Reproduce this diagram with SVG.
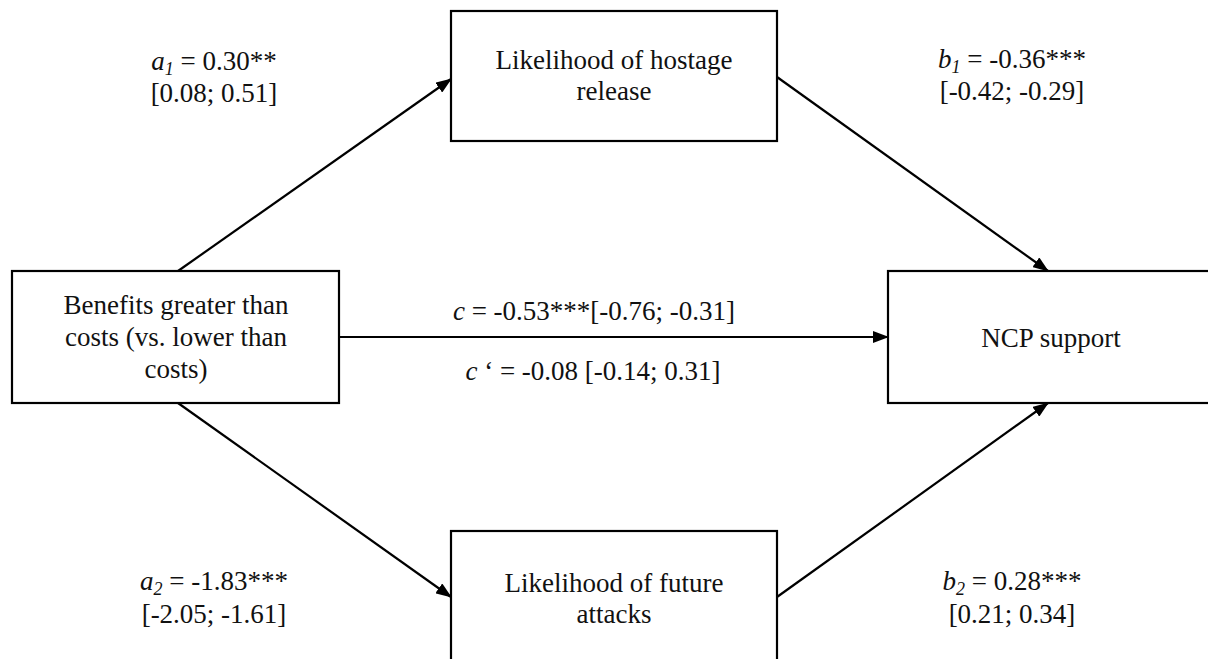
<svg xmlns="http://www.w3.org/2000/svg" width="1208" height="659" viewBox="0 0 1208 659">
<style>
.box{fill:#fff;stroke:#000;stroke-width:2.2}
.t{font-family:"Liberation Serif","Times New Roman",serif;font-size:27px;fill:#111;text-anchor:middle}
.i{font-style:italic}
.s{font-size:18px;font-style:italic}
.edge{stroke:#000;stroke-width:2.2;fill:none;marker-end:url(#ah)}
</style>
<defs>
<marker id="ah" markerUnits="userSpaceOnUse" markerWidth="16" markerHeight="12" refX="15" refY="6" orient="auto">
<path d="M0,0 L16,6 L0,12 z" fill="#000"/>
</marker>
</defs>
<rect width="1208" height="659" fill="#fff"/>
<g id="connectors">
<line class="edge" x1="178" y1="271" x2="451" y2="79"/>
<line class="edge" x1="777" y1="77" x2="1048" y2="271"/>
<line class="edge" x1="339" y1="337" x2="888" y2="337"/>
<line class="edge" x1="178" y1="403" x2="451" y2="597"/>
<line class="edge" x1="777" y1="597" x2="1048" y2="403"/>
</g>
<g id="node-hostage">
<rect class="box" x="451" y="11" width="326" height="130"/>
<text class="t" x="614" y="69">Likelihood of hostage</text>
<text class="t" x="614" y="100">release</text>
</g>
<g id="node-benefits">
<rect class="box" x="12" y="271" width="327" height="132"/>
<text class="t" x="176" y="314">Benefits greater than</text>
<text class="t" x="176" y="346">costs (vs. lower than</text>
<text class="t" x="176" y="378">costs)</text>
</g>
<g id="node-ncp">
<rect class="box" x="888" y="271" width="330" height="132"/>
<text class="t" x="1051" y="347">NCP support</text>
</g>
<g id="node-attacks">
<rect class="box" x="451" y="531" width="326" height="140"/>
<text class="t" x="614" y="592">Likelihood of future</text>
<text class="t" x="614" y="623">attacks</text>
</g>
<g id="labels">
<text class="t" x="214" y="70"><tspan class="i">a</tspan><tspan class="s" dy="5">1</tspan><tspan dy="-5"> = 0.30**</tspan></text>
<text class="t" x="214" y="102">[0.08; 0.51]</text>
<text class="t" x="1012" y="68"><tspan class="i">b</tspan><tspan class="s" dy="5">1</tspan><tspan dy="-5"> = -0.36***</tspan></text>
<text class="t" x="1012" y="100">[-0.42; -0.29]</text>
<text class="t" x="594" y="320"><tspan class="i">c</tspan> = -0.53***[-0.76; -0.31]</text>
<text class="t" x="593" y="380"><tspan class="i">c</tspan> ‘ = -0.08 [-0.14; 0.31]</text>
<text class="t" x="214" y="590"><tspan class="i">a</tspan><tspan class="s" dy="5">2</tspan><tspan dy="-5"> = -1.83***</tspan></text>
<text class="t" x="214" y="623">[-2.05; -1.61]</text>
<text class="t" x="1012" y="590"><tspan class="i">b</tspan><tspan class="s" dy="5">2</tspan><tspan dy="-5"> = 0.28***</tspan></text>
<text class="t" x="1012" y="623">[0.21; 0.34]</text>
</g>
</svg>
